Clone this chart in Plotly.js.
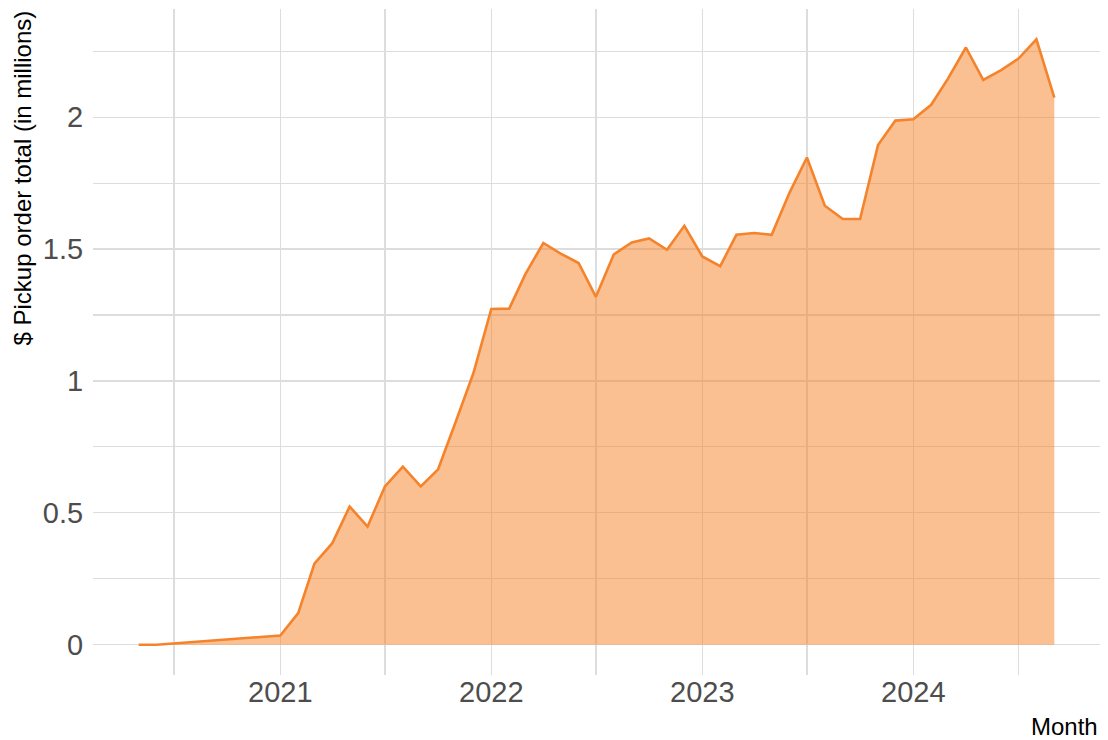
<!DOCTYPE html>
<html>
<head>
<meta charset="utf-8">
<script src="https://cdn.plot.ly/plotly-3.0.1.min.js"></script>
<style>
  html, body { margin: 0; padding: 0; background: #ffffff; }
  #chart { width: 1108px; height: 740px; }
</style>
</head>
<body>
<div id="chart"></div>
<script>
const months = [
  "2020-05-01", "2020-06-01",
  "2021-01-01", "2021-02-01", "2021-03-01", "2021-04-01", "2021-05-01", "2021-06-01",
  "2021-07-01", "2021-08-01", "2021-09-01", "2021-10-01", "2021-11-01", "2021-12-01",
  "2022-01-01", "2022-02-01", "2022-03-01", "2022-04-01", "2022-05-01", "2022-06-01",
  "2022-07-01", "2022-08-01", "2022-09-01", "2022-10-01", "2022-11-01", "2022-12-01",
  "2023-01-01", "2023-02-01", "2023-03-01", "2023-04-01", "2023-05-01", "2023-06-01",
  "2023-07-01", "2023-08-01", "2023-09-01", "2023-10-01", "2023-11-01", "2023-12-01",
  "2024-01-01", "2024-02-01", "2024-03-01", "2024-04-01", "2024-05-01", "2024-06-01",
  "2024-07-01", "2024-08-01", "2024-09-01"
];
const pickupTotals = [
  0.000, 0.000,
  0.035, 0.120, 0.307, 0.385, 0.524, 0.448,
  0.600, 0.675, 0.600, 0.665, 0.848, 1.029,
  1.273, 1.274, 1.405, 1.523, 1.483, 1.447,
  1.319, 1.480, 1.525, 1.540, 1.497, 1.588,
  1.472, 1.435, 1.554, 1.561, 1.554, 1.714,
  1.847, 1.664, 1.614, 1.614, 1.894, 1.987,
  1.992, 2.047, 2.146, 2.264, 2.141, 2.178,
  2.222, 2.295, 2.074
];
const yTickVals = [0, 0.5, 1, 1.5, 2];
const yTickText = ["0", "0.5", "1", "1.5", "2"];
const yMinorVals = [0.25, 0.75, 1.25, 1.75, 2.25];
const xTickVals = ["2021-01-01", "2022-01-01", "2023-01-01", "2024-01-01"];
const xTickText = ["2021", "2022", "2023", "2024"];
const xMinorVals = ["2020-07-01", "2021-07-01", "2022-07-01", "2023-07-01", "2024-07-01"];

const FONT = "Liberation Sans, Arial, sans-serif";
const GRID = "#dddddd";

const trace = {
  x: months,
  y: pickupTotals,
  type: "scatter",
  mode: "lines",
  fill: "tozeroy",
  fillcolor: "rgba(245,130,38,0.5)",
  line: { color: "#f5832b", width: 2.6 },
  hoverinfo: "x+y"
};

const layout = {
  width: 1108,
  height: 740,
  paper_bgcolor: "#ffffff",
  plot_bgcolor: "#ffffff",
  margin: { l: 93, r: 8, t: 9, b: 65 },
  showlegend: false,
  font: { family: FONT, color: "#4d4d4d" },
  xaxis: {
    type: "date",
    range: ["2020-02-12", "2024-11-19"],
    tickmode: "array",
    tickvals: xTickVals,
    ticktext: xTickText,
    ticks: "",
    ticklabelstandoff: -3,
    tickfont: { family: FONT, size: 29, color: "#4d4d4d" },
    showgrid: true,
    gridcolor: GRID,
    gridwidth: 1.2,
    zeroline: false,
    showline: false,
    minor: {
      tickmode: "array",
      tickvals: xMinorVals,
      showgrid: true,
      gridcolor: GRID,
      gridwidth: 1.2,
      ticks: ""
    },
    fixedrange: true
  },
  yaxis: {
    range: [-0.1148, 2.41],
    tickmode: "array",
    tickvals: yTickVals,
    ticktext: yTickText,
    ticks: "outside",
    ticklen: 3,
    tickcolor: "rgba(0,0,0,0)",
    tickfont: { family: FONT, size: 29, color: "#4d4d4d" },
    showgrid: true,
    gridcolor: GRID,
    gridwidth: 1.2,
    zeroline: false,
    showline: false,
    minor: {
      tickmode: "array",
      tickvals: yMinorVals,
      showgrid: true,
      gridcolor: GRID,
      gridwidth: 1.2,
      ticks: ""
    },
    fixedrange: true
  },
  annotations: [
    {
      text: "$ Pickup order total (in millions)",
      xref: "paper", yref: "paper",
      x: 0, y: 1,
      xanchor: "center", yanchor: "top",
      xshift: -71,
      textangle: -90,
      showarrow: false,
      font: { family: FONT, size: 24, color: "#000000" }
    },
    {
      text: "Month",
      xref: "paper", yref: "paper",
      x: 1, y: 0,
      xanchor: "right", yanchor: "top",
      yshift: -36,
      showarrow: false,
      font: { family: FONT, size: 24, color: "#000000" }
    }
  ]
};

Plotly.newPlot("chart", [trace], layout, { displayModeBar: false, staticPlot: true });
</script>
</body>
</html>
